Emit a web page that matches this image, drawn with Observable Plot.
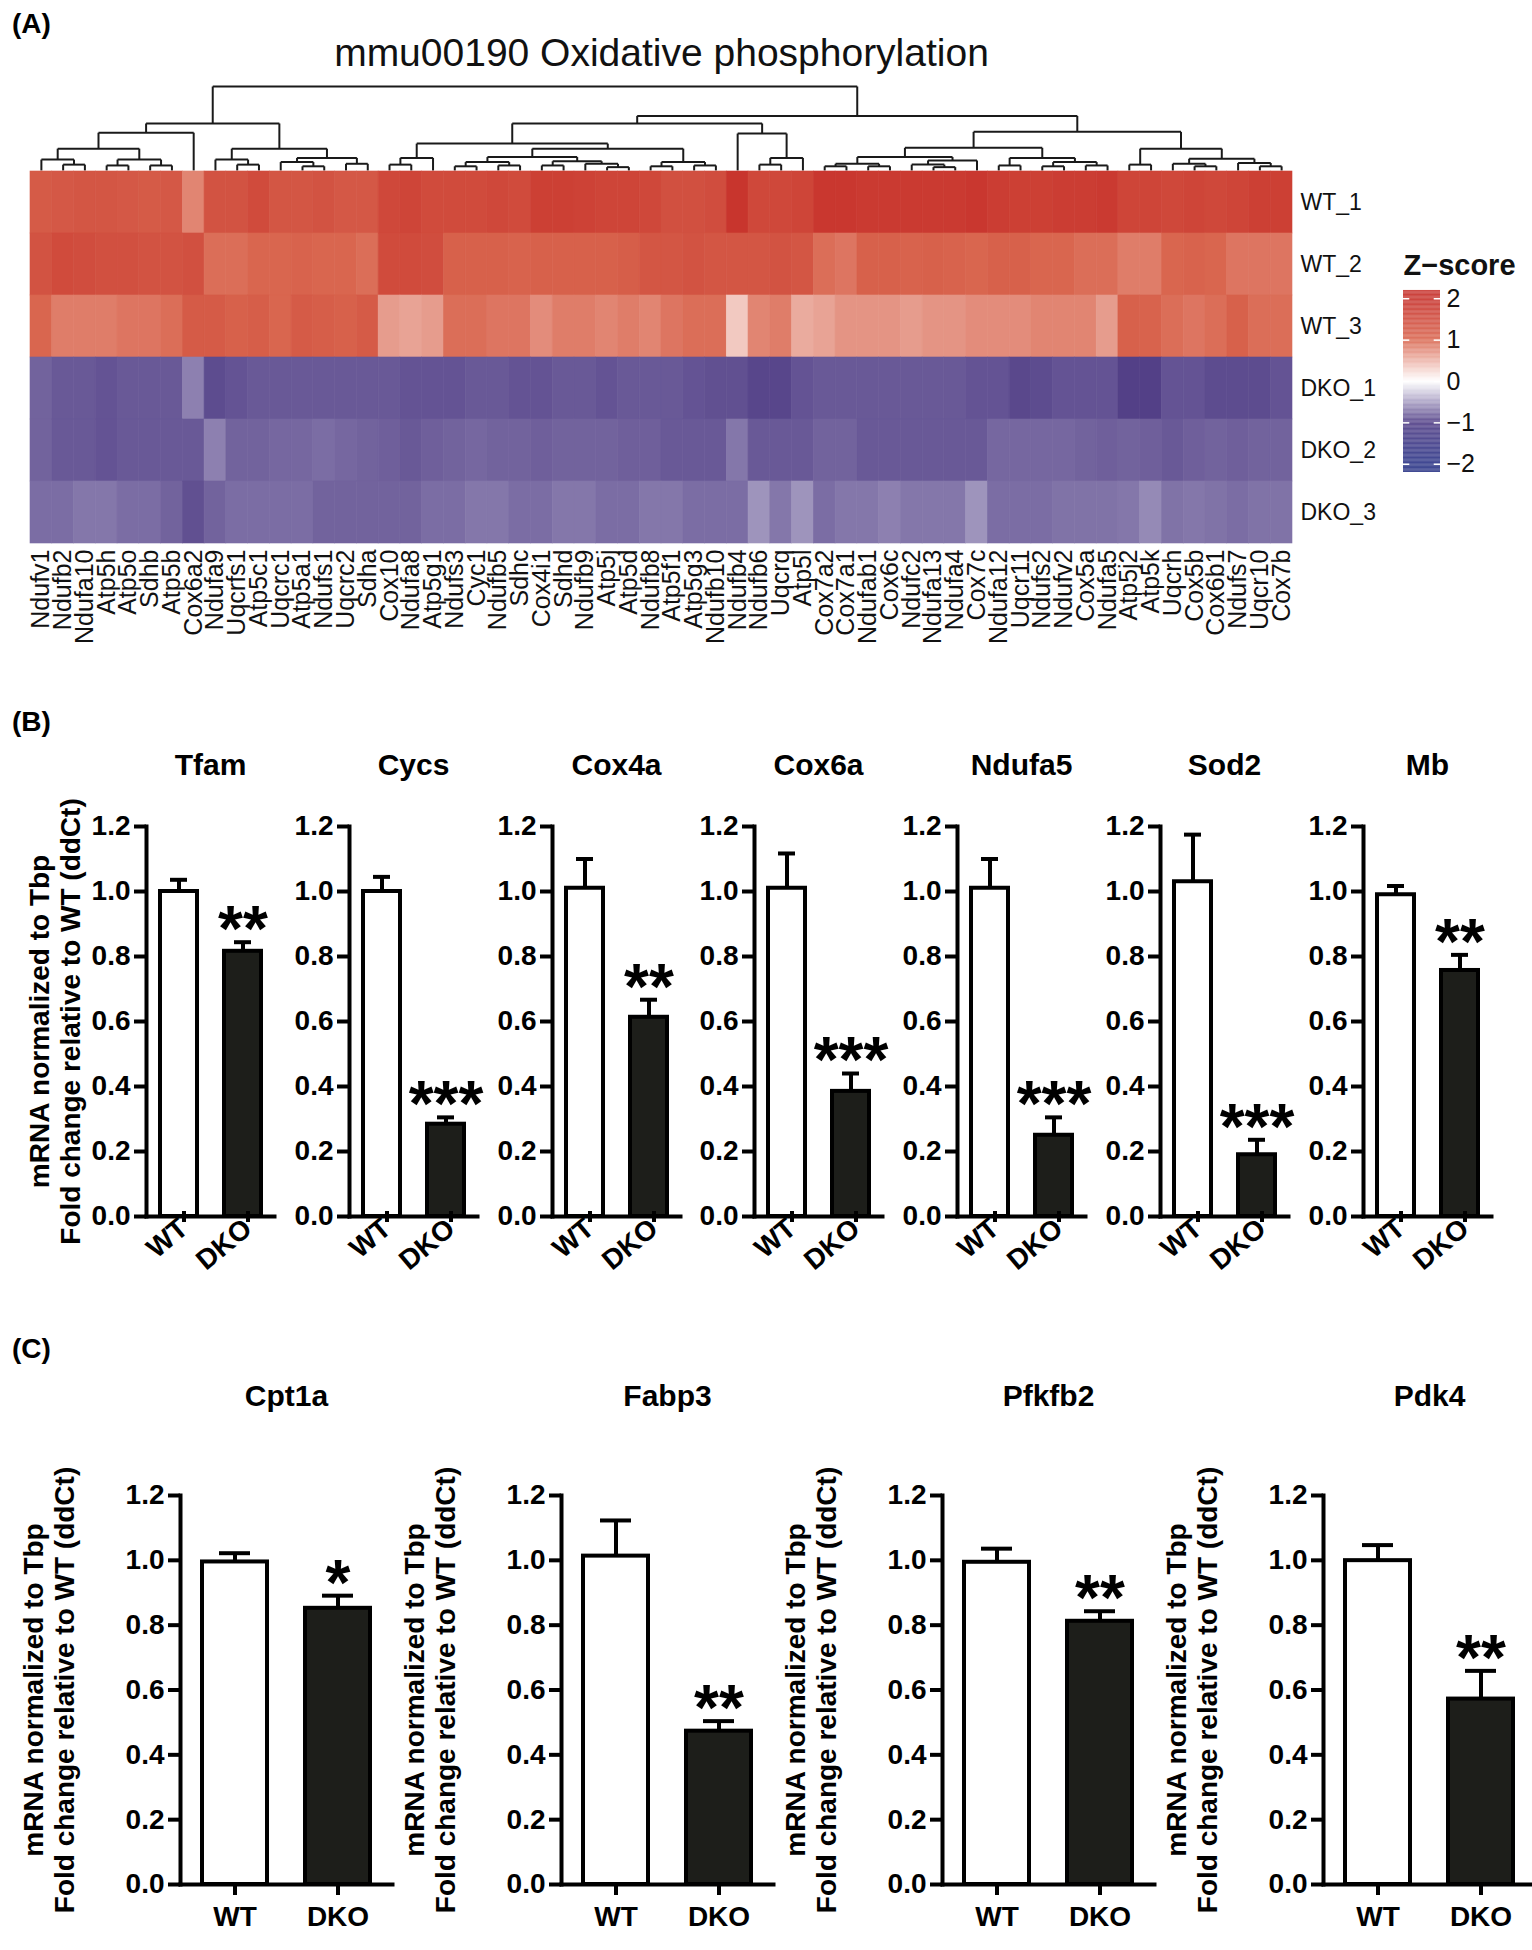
<!DOCTYPE html>
<html><head><meta charset="utf-8">
<script src="https://cdn.jsdelivr.net/npm/d3@7"></script>
<script src="https://cdn.jsdelivr.net/npm/@observablehq/plot@0.6"></script>
<style>
body{margin:0;background:#fff;font-family:"Liberation Sans",Arial,Helvetica,sans-serif;}
#root{position:relative;width:1532px;height:1950px;overflow:hidden;background:#fff;}
#root svg{position:absolute;overflow:visible;}
.plabel{position:absolute;font-weight:bold;font-size:28px;line-height:1;}
</style></head><body><div id="root"></div>
<script>
// ---------------- DATA ----------------
const genes = ["Ndufv1","Ndufb2","Ndufa10","Atp5h","Atp5o","Sdhb","Atp5b","Cox6a2","Ndufa9","Uqcrfs1","Atp5c1","Uqcrc1","Atp5a1","Ndufs1","Uqcrc2","Sdha","Cox10","Ndufa8","Atp5g1","Ndufs3","Cyc1","Ndufb5","Sdhc","Cox4i1","Sdhd","Ndufb9","Atp5j","Atp5d","Ndufb8","Atp5f1","Atp5g3","Ndufb10","Ndufb4","Ndufb6","Uqcrq","Atp5l","Cox7a2","Cox7a1","Ndufab1","Cox6c","Ndufc2","Ndufa13","Ndufa4","Cox7c","Ndufa12","Uqcr11","Ndufs2","Ndufv2","Cox5a","Ndufa5","Atp5j2","Atp5k","Uqcrh","Cox5b","Cox6b1","Ndufs7","Uqcr10","Cox7b"];
const samples = ["WT_1","WT_2","WT_3","DKO_1","DKO_2","DKO_3"];
const zWT1 = [1.2,1.25,1.3,1.3,1.25,1.2,1.25, 0.8, 1.35,1.35,1.5,1.3,1.3,1.35,1.25,1.25, 1.55,1.6,1.5, 1.5,1.5,1.55,1.5, 1.7,1.7,1.65,1.6, 1.6,1.55,1.4, 1.4,1.45, 1.9, 1.55,1.55,1.6, 1.85,1.85,1.8,1.8,1.8,1.8,1.8,1.85, 1.75,1.7,1.7,1.75,1.75,1.8, 1.6,1.6,1.55,1.6,1.55,1.6, 1.7,1.7];
const zWT2 = [1.35,1.5,1.45,1.4,1.4,1.35,1.35,1.4, 0.95,0.95,1.0,1.0,1.05,1.0,1.0,0.95, 1.5,1.5,1.45, 1.1,1.1,1.1,1.05,1.1,1.1,1.1,1.1,1.15,1.3, 1.3, 1.35,1.3,1.3,1.3,1.35,1.3, 0.95,0.9, 1.1,1.1,1.05,1.1,1.05,1.0, 1.1,1.1, 1.0,1.0,0.95,0.95, 0.85,0.85, 1.0,1.05,1.0, 0.9,0.9,0.9];
const zWT3 = [1.0, 0.85,0.85,0.85,0.9,0.9,0.95, 1.2,1.2, 1.1,1.15,1.0,1.2,1.15,1.1,1.2, 0.65,0.6,0.65, 0.95,0.95,0.9,0.9, 0.75, 0.85,0.85,0.8,0.85,0.8, 0.9,0.95,0.95, 0.35, 0.8, 0.85, 0.55, 0.6, 0.7,0.7,0.7,0.65,0.7,0.7,0.75, 0.75,0.75,0.8, 0.8,0.8,0.65, 1.1,1.05, 0.95,0.9,0.95, 1.1, 0.95,0.95];
const zDKO1 = [-0.8,-0.85,-0.85,-0.88,-0.85,-0.85,-0.85, -0.65, -0.92,-0.88,-0.85,-0.85,-0.85,-0.85,-0.85,-0.85, -0.85,-0.88,-0.88, -0.88,-0.85,-0.85,-0.88,-0.88,-0.85,-0.85,-0.88,-0.85,-0.85,-0.85, -0.88,-0.9,-0.9, -0.95,-0.95, -0.88,-0.85,-0.85,-0.85,-0.85,-0.85,-0.85,-0.85,-0.88, -0.88,-0.94,-0.92,-0.88,-0.88,-0.88, -0.98,-0.98, -0.88,-0.88,-0.92,-0.92,-0.92,-0.88];
const zDKO2 = [-0.8,-0.85,-0.85,-0.88,-0.85,-0.85,-0.85,-0.85, -0.65, -0.8,-0.8,-0.78,-0.78,-0.75,-0.78,-0.8,-0.82,-0.85,-0.82,-0.8,-0.78,-0.8,-0.8,-0.82,-0.8,-0.8,-0.8,-0.82,-0.82,-0.85,-0.85,-0.85, -0.7, -0.85,-0.85,-0.85,-0.8,-0.8,-0.85,-0.85,-0.85,-0.85,-0.85,-0.85, -0.78,-0.78,-0.78,-0.78,-0.8, -0.82,-0.8,-0.82,-0.85,-0.82,-0.8,-0.82,-0.8,-0.8];
const zDKO3 = [-0.75,-0.75,-0.7,-0.7,-0.75,-0.75,-0.8, -0.9, -0.8,-0.75,-0.75,-0.75,-0.75,-0.8,-0.8,-0.8, -0.8,-0.8,-0.75,-0.75,-0.7,-0.7,-0.75,-0.75,-0.7,-0.7,-0.75,-0.75,-0.7,-0.7, -0.75,-0.75,-0.75, -0.55, -0.7, -0.55, -0.75,-0.7,-0.7,-0.65,-0.7,-0.7,-0.7, -0.55, -0.75,-0.75,-0.75,-0.72,-0.72,-0.72,-0.7, -0.6, -0.72,-0.7,-0.72,-0.75,-0.72,-0.72];
// column dendrogram: [mergeHeight, left, right], leaves are gene indices
const dendroTree = [10,
  [5.6,
    [4.5, [2.6, [1.3, 0, [0.7, 1, 2]], [1.3, [0.6, 3, 4], [0.6, 5, 6]]], 7],
    [2.6, [1.3, 8, [0.7, 9, 10]], [1.5, [1.0, 11, [0.5, 12, 13]], [0.8, 14, 15]]]],
  [6.5,
    [5.6,
      [3.2, [1.5, [0.7, 16, 17], 18],
        [2.6, [1.6, [1.0, [0.5, 19, 20], [0.6, 21, 22]], [1.1, [0.6, 23, 24], [0.8, 25, [0.4, 26, 27]]]],
              [1.0, [0.5, 28, 29], [0.6, 30, 31]]]],
      [4.4, 32, [1.5, [0.7, 33, 34], 35]]],
    [4.6,
      [2.7, [1.6, [0.8, [0.5, 36, 37], [0.5, 38, 39]], [1.2, [0.7, 40, [0.4, 41, 42]], 43]],
            [1.5, [0.6, 44, 45], [1.0, [0.5, 46, 47], [0.6, 48, 49]]]],
      [2.6, [0.7, 50, 51], [1.4, [0.8, 52, [0.5, 53, 54]], [0.9, 55, [0.5, 56, 57]]]]]]];
const zStops = [-2, -1, 0, 1, 2];
const zColors = ["#2b3486", "#4f3c85", "#ffffff", "#d9664f", "#c62f29"];

const groups = ["WT", "DKO"];
const yTicks = [0, 0.2, 0.4, 0.6, 0.8, 1.0, 1.2];
const bGenes = ["Tfam", "Cycs", "Cox4a", "Cox6a", "Ndufa5", "Sod2", "Mb"];
const bWT    = [1.00, 1.00, 1.01, 1.01, 1.01, 1.03, 0.99];
const bWTerr = [0.036, 0.045, 0.09, 0.107, 0.09, 0.145, 0.027];
const bDKO   = [0.816, 0.284, 0.613, 0.385, 0.25, 0.19, 0.757];
const bDKOerr= [0.028, 0.021, 0.054, 0.055, 0.055, 0.046, 0.048];
const bStars = ["**", "***", "**", "***", "***", "***", "**"];
const cGenes = ["Cpt1a", "Fabp3", "Pfkfb2", "Pdk4"];
const cWT    = [0.995, 1.013, 0.994, 0.999];
const cWTerr = [0.027, 0.11, 0.042, 0.048];
const cDKO   = [0.852, 0.473, 0.812, 0.572];
const cDKOerr= [0.039, 0.031, 0.031, 0.087];
const cStars = ["*", "**", "**", "**"];
const yLabel = "mRNA normalized to Tbp\nFold change relative to WT (ddCt)";

// ---------------- RENDER ----------------
const root = document.getElementById("root");
const FONT = "'Liberation Sans', Arial, Helvetica, sans-serif";
function place(el, left, top) { el.style.left = left + "px"; el.style.top = top + "px"; root.appendChild(el); }
function label(txt, left, top) { const d = document.createElement("div"); d.className = "plabel"; d.textContent = txt; place(d, left, top); }

const colorScale = {type: "linear", domain: zStops, range: zColors, interpolate: "rgb", clamp: true};

// dendrogram segments derived from the tree
const segs = [];
function walk(node) {
  if (typeof node === "number") return {x: node + 0.5, h: 0};
  const [h, a, b] = node;
  const la = walk(a), lb = walk(b);
  segs.push({x1: la.x, y1: la.h, x2: la.x, y2: h});
  segs.push({x1: lb.x, y1: lb.h, x2: lb.x, y2: h});
  segs.push({x1: la.x, y1: h, x2: lb.x, y2: h});
  return {x: (la.x + lb.x) / 2, h};
}
walk(dendroTree);

const HL = 30, HR = 1292;
label("(A)", 12, 10);
place(Plot.plot({
  width: 1532, height: 172, marginLeft: HL, marginRight: 1532 - HR, marginTop: 0, marginBottom: 0,
  x: {domain: [0, genes.length], axis: null},
  y: {domain: [0, 10], range: [170, 86], axis: null},
  style: {fontFamily: FONT, background: "transparent"},
  marks: [
    Plot.link(segs, {x1: "x1", y1: "y1", x2: "x2", y2: "y2", stroke: "#1a1a1a", strokeWidth: 2}),
    Plot.text(["mmu00190 Oxidative phosphorylation"], {frameAnchor: "top", dy: 38, fontSize: 39, fill: "#111"})
  ]
}), 0, 0);

const cells = [];
const rowsZ = [zWT1, zWT2, zWT3, zDKO1, zDKO2, zDKO3];
samples.forEach((s, j) => genes.forEach((g, i) => cells.push({gene: g, sample: s, z: rowsZ[j][i]})));
place(Plot.plot({
  width: 1532, height: 503, marginLeft: HL, marginRight: 1532 - HR, marginTop: 20, marginBottom: 110,
  x: {domain: genes, padding: 0, axis: null},
  y: {domain: samples, padding: 0, axis: null},
  color: colorScale,
  style: {fontFamily: FONT, background: "transparent", color: "#111"},
  marks: [
    Plot.cell(cells, {x: "gene", y: "sample", fill: "z", stroke: "z", strokeWidth: 0.6, inset: 0}),
    Plot.axisX({anchor: "bottom", label: null, tickSize: 0, tickPadding: 6, tickRotate: -90, fontSize: 25}),
    Plot.axisY({anchor: "right", label: null, tickSize: 0, tickPadding: 8, fontSize: 23})
  ]
}), 0, 150);

// legend
const grad = d3.range(-2.2, 2.2, 0.02);
place(Plot.plot({
  width: 152, height: 260, marginLeft: 23, marginRight: 92, marginTop: 50, marginBottom: 28,
  x: {domain: [0, 1], axis: null},
  y: {domain: [-2.2, 2.2], axis: null},
  color: colorScale,
  style: {fontFamily: FONT, background: "transparent", color: "#111"},
  marks: [
    Plot.rect(grad, {x1: 0, x2: 1, y1: d => d, y2: d => d + 0.021, fill: d => d + 0.01}),
    Plot.ruleY(zStops, {x1: 0, x2: 0.17, stroke: "white", strokeWidth: 1.5}),
    Plot.ruleY(zStops, {x1: 0.83, x2: 1, stroke: "white", strokeWidth: 1.5}),
    Plot.text(zStops, {x: 1, y: d => d, text: d => d < 0 ? "\u2212" + Math.abs(d) : String(d), textAnchor: "start", dx: 6, fontSize: 25}),
    Plot.text(["Z\u2212score"], {frameAnchor: "top-left", dy: -36, textAnchor: "start", fontSize: 29, fontWeight: "bold"})
  ]
}), 1380, 240);

function barChart(o) {
  const data = [
    {group: "WT", value: o.wt, err: o.wtErr, stars: ""},
    {group: "DKO", value: o.dko, err: o.dkoErr, stars: o.stars}
  ];
  const ml = o.ml, W = ml + o.frameW + 12;
  const marks = [
    Plot.barY(data, {x: "group", y: "value", fill: "group", stroke: "black", strokeWidth: 4}),
    Plot.ruleX(data, {x: "group", y1: "value", y2: d => d.value + d.err, stroke: "black", strokeWidth: 4}),
    Plot.tickY(data, {x: "group", y: d => d.value + d.err, stroke: "black", strokeWidth: 4, insetLeft: o.capInset, insetRight: o.capInset}),
    Plot.text(data.filter(d => d.stars), {x: "group", y: d => d.value + d.err + 0.085, text: "stars", fontSize: 64, fontWeight: "bold", dy: 16}),
    Plot.frame({anchor: "left", stroke: "black", strokeWidth: 4, strokeLinecap: "square"}),
    Plot.frame({anchor: "bottom", stroke: "black", strokeWidth: 4, strokeLinecap: "square"}),
    Plot.axisY(yTicks, {label: null, tickSize: 12, tickPadding: 4, tickFormat: d3.format(".1f"), fontSize: 28, fontWeight: "bold", strokeWidth: 4}),
    Plot.axisX({label: null, tickSize: 11, tickRotate: o.rot, tickPadding: o.rot ? 2 : 11, dx: o.rot ? 5 : 0, dy: o.rot ? -5 : 0, fontSize: 28, fontWeight: "bold", strokeWidth: 4}),
    Plot.text([o.gene], {frameAnchor: "top", dy: o.titleDy, fontSize: 30, fontWeight: "bold"})
  ];
  if (o.ylab) marks.push(Plot.text([yLabel], {frameAnchor: "left", dx: o.labDx, rotate: -90, textAnchor: "middle", lineAnchor: "middle", fontSize: 28, fontWeight: "bold", lineHeight: 1.12}));
  return Plot.plot({
    width: W, height: o.mt + o.plotH + o.mb,
    marginLeft: ml, marginRight: 12, marginTop: o.mt, marginBottom: o.mb,
    x: {domain: groups, range: [ml + o.b0, ml + o.b1], paddingInner: o.pin, paddingOuter: 0, axis: null},
    y: {domain: [0, 1.2], axis: null},
    color: {domain: groups, range: ["#ffffff", "#1d1e1a"]},
    style: {fontFamily: FONT, fontWeight: "bold", background: "transparent", color: "black"},
    marks
  });
}

// panel B
label("(B)", 12, 708);
bGenes.forEach((g, i) => {
  const axisX = 146 + 202.8 * i;
  const ml = i === 0 ? 146 : 75;
  place(barChart({gene: g, wt: bWT[i], wtErr: bWTerr[i], dko: bDKO[i], dkoErr: bDKOerr[i], stars: bStars[i],
    ml, frameW: 128, b0: 13, b1: 116, pin: 0.415, capInset: 10, mt: 126, plotH: 390, mb: 75,
    rot: -40, titleDy: -73, ylab: i === 0, labDx: -92}), axisX - ml, 700);
});

// panel C
label("(C)", 12, 1335);
cGenes.forEach((g, i) => {
  const axisX = 180 + 381 * i;
  const ml = 150;
  place(barChart({gene: g, wt: cWT[i], wtErr: cWTerr[i], dko: cDKO[i], dkoErr: cDKOerr[i], stars: cStars[i],
    ml, frameW: 212, b0: 21, b1: 191, pin: 0.365, capInset: 17, mt: 165, plotH: 389, mb: 66,
    rot: 0, titleDy: -111, ylab: true, labDx: -132}), axisX - ml, 1330);
});
</script></body></html>
